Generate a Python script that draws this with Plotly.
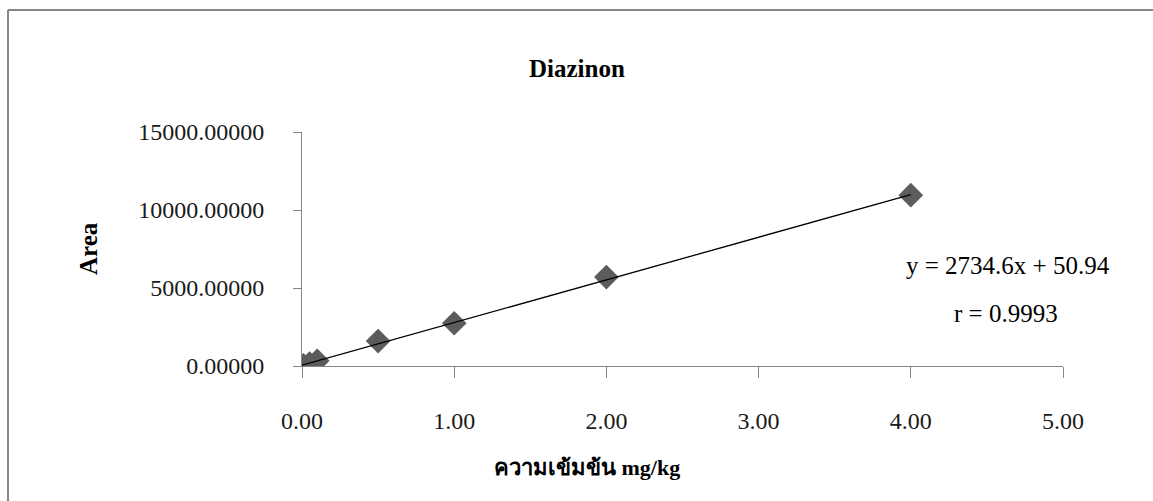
import plotly.graph_objects as go

# data
conc = [0.01, 0.05, 0.1, 0.5, 1.0, 2.0, 4.0]
area = [40, 160, 330, 1600, 2740, 5700, 10950]
slope = 2734.6
intercept = 50.94
fit_x = [0.0, 4.0]
fit_y = [slope * v + intercept for v in fit_x]

title_text = "Diazinon"
x_title = "ความเข้มข้น mg/kg"
y_title = "Area"
eq_text = "y = 2734.6x + 50.94"
r_text = "r = 0.9993"

W, H = 1153, 501
L, R, T, B = 302, 1063, 132, 366  # plot area in pixels

def px(xp):
    return (xp - L) / (R - L)

def py(yp):
    return (B - yp) / (B - T)

serif = "Liberation Serif, Times New Roman, serif"
gray = "#868686"

fig = go.Figure()
fig.add_trace(go.Scatter(x=conc, y=area, mode="markers",
                         marker=dict(symbol="diamond", size=19, color="#5c5c5c",
                                     line=dict(width=0)),
                         showlegend=False))
fig.add_trace(go.Scatter(x=fit_x, y=fit_y, mode="lines",
                         line=dict(color="black", width=1.3), showlegend=False))

fig.update_layout(
    width=W, height=H,
    margin=dict(l=L, r=W - R, t=T, b=H - B),
    paper_bgcolor="white", plot_bgcolor="white",
    font=dict(family=serif, size=24, color="black"),
    xaxis=dict(range=[0, 5], tickvals=[0, 1, 2, 3, 4, 5], tickformat=".2f",
               showgrid=False, zeroline=False, showline=True, linecolor=gray,
               linewidth=1, ticks="outside", ticklen=11, tickcolor=gray,
               tickfont=dict(family=serif, size=24, color="#1a1a1a"), ticklabelstandoff=22),
    yaxis=dict(range=[0, 15000], tickvals=[0, 5000, 10000, 15000], tickformat=".5f",
               showgrid=False, zeroline=False, showline=True, linecolor=gray,
               linewidth=1, ticks="outside", ticklen=8, tickcolor=gray,
               tickfont=dict(family=serif, size=24, color="#1a1a1a"), ticklabelstandoff=24),
)

ann = [
    dict(text="<b>" + title_text + "</b>", x=px(577), y=py(68), size=25),
    dict(text="<b>" + x_title + "</b>", x=px(587), y=py(467), size=22),
    dict(text=eq_text, x=px(1008), y=py(265), size=25),
    dict(text=r_text, x=px(1006), y=py(313), size=25),
]
for a in ann:
    fig.add_annotation(text=a["text"], x=a["x"], y=a["y"], xref="paper", yref="paper",
                       showarrow=False, xanchor="center", yanchor="middle",
                       font=dict(family=serif, size=a["size"], color="black"))
fig.add_annotation(text="<b>" + y_title + "</b>", x=px(88), y=py(249), xref="paper",
                   yref="paper", showarrow=False, textangle=-90, xanchor="center",
                   yanchor="middle", font=dict(family=serif, size=25, color="black"))

# outer chart border (left and top visible)
fig.add_shape(type="line", xref="paper", yref="paper", x0=px(8), x1=px(8),
              y0=py(10), y1=py(520), line=dict(color=gray, width=2))
fig.add_shape(type="line", xref="paper", yref="paper", x0=px(8), x1=px(1170),
              y0=py(10), y1=py(10), line=dict(color=gray, width=2))

fig.write_html("out.html")
